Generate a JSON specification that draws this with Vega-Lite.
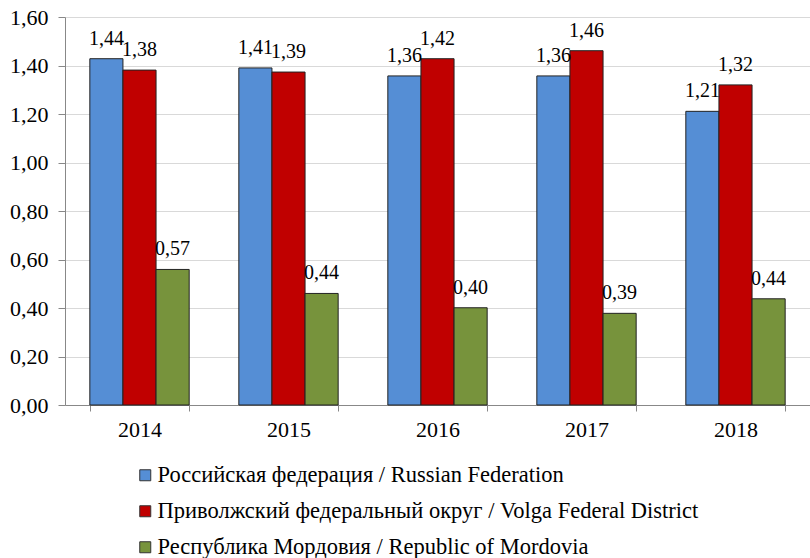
{
  "$schema": "https://vega.github.io/schema/vega-lite/v6.json",
  "width": 745,
  "height": 388,
  "autosize": {"type": "none"},
  "padding": {"left": 65, "top": 17, "right": 0, "bottom": 153},
  "background": "white",
  "data": {
    "values": [
      {"year": "2014", "series": "Российская федерация / Russian Federation", "value": 1.428, "label": "1,44"},
      {"year": "2014", "series": "Приволжский федеральный округ  / Volga Federal District", "value": 1.381, "label": "1,38"},
      {"year": "2014", "series": "Республика Мордовия  / Republic of Mordovia", "value": 0.559, "label": "0,57"},
      {"year": "2015", "series": "Российская федерация / Russian Federation", "value": 1.390, "label": "1,41"},
      {"year": "2015", "series": "Приволжский федеральный округ  / Volga Federal District", "value": 1.373, "label": "1,39"},
      {"year": "2015", "series": "Республика Мордовия  / Republic of Mordovia", "value": 0.460, "label": "0,44"},
      {"year": "2016", "series": "Российская федерация / Russian Federation", "value": 1.357, "label": "1,36"},
      {"year": "2016", "series": "Приволжский федеральный округ  / Volga Federal District", "value": 1.428, "label": "1,42"},
      {"year": "2016", "series": "Республика Мордовия  / Republic of Mordovia", "value": 0.401, "label": "0,40"},
      {"year": "2017", "series": "Российская федерация / Russian Federation", "value": 1.357, "label": "1,36"},
      {"year": "2017", "series": "Приволжский федеральный округ  / Volga Federal District", "value": 1.461, "label": "1,46"},
      {"year": "2017", "series": "Республика Мордовия  / Republic of Mordovia", "value": 0.378, "label": "0,39"},
      {"year": "2018", "series": "Российская федерация / Russian Federation", "value": 1.211, "label": "1,21"},
      {"year": "2018", "series": "Приволжский федеральный округ  / Volga Federal District", "value": 1.320, "label": "1,32"},
      {"year": "2018", "series": "Республика Мордовия  / Republic of Mordovia", "value": 0.438, "label": "0,44"}
    ]
  },
  "encoding": {
    "x": {
      "field": "year", "type": "nominal", "title": null,
      "scale": {"paddingInner": 0.3333, "paddingOuter": 0.1667},
      "axis": {
        "labelAngle": 0, "labelFontSize": 22, "labelColor": "#000",
        "domainColor": "#888", "tickColor": "#888", "tickBand": "extent", "tickSize": 6,
        "labelPadding": 8, "grid": false
      }
    },
    "xOffset": {
      "field": "series", "type": "nominal",
      "sort": ["Российская федерация / Russian Federation", "Приволжский федеральный округ  / Volga Federal District", "Республика Мордовия  / Republic of Mordovia"],
      "scale": {"paddingInner": 0, "paddingOuter": 0}
    },
    "y": {
      "field": "value", "type": "quantitative", "title": null,
      "scale": {"domain": [0, 1.6], "nice": false},
      "axis": {
        "values": [0, 0.2, 0.4, 0.6, 0.8, 1.0, 1.2, 1.4, 1.6],
        "labelExpr": "replace(format(datum.value, '.2f'), '.', ',')",
        "labelFontSize": 22, "labelColor": "#000",
        "domainColor": "#888", "tickColor": "#888", "tickSize": 7, "labelPadding": 10,
        "gridColor": "#d9d9d9", "gridWidth": 1
      }
    }
  },
  "layer": [
    {
      "mark": {"type": "bar", "stroke": "#222", "strokeWidth": 1},
      "encoding": {
        "color": {
          "field": "series", "type": "nominal",
          "sort": ["Российская федерация / Russian Federation", "Приволжский федеральный округ  / Volga Federal District", "Республика Мордовия  / Republic of Mordovia"],
          "scale": {
            "domain": ["Российская федерация / Russian Federation", "Приволжский федеральный округ  / Volga Federal District", "Республика Мордовия  / Republic of Mordovia"],
            "range": ["#558ED5", "#C00000", "#77933C"]
          },
          "legend": {
            "title": null, "orient": "none", "direction": "vertical",
            "legendX": 69, "legendY": 447, "padding": 0,
            "symbolType": "square", "symbolSize": 121, "symbolStrokeColor": "#333", "symbolStrokeWidth": 1,
            "labelFontSize": 22.5, "labelColor": "#000",
            "labelOffset": 1, "rowPadding": 13, "labelLimit": 700
          }
        }
      }
    },
    {
      "mark": {"type": "text", "fontSize": 20, "color": "#000", "baseline": "bottom", "dy": -10},
      "encoding": {"text": {"field": "label"}}
    }
  ],
  "config": {
    "view": {"stroke": null},
    "font": "Liberation Serif",
    "text": {"font": "Liberation Serif"},
    "axis": {"labelFont": "Liberation Serif"},
    "legend": {"labelFont": "Liberation Serif"}
  }
}
